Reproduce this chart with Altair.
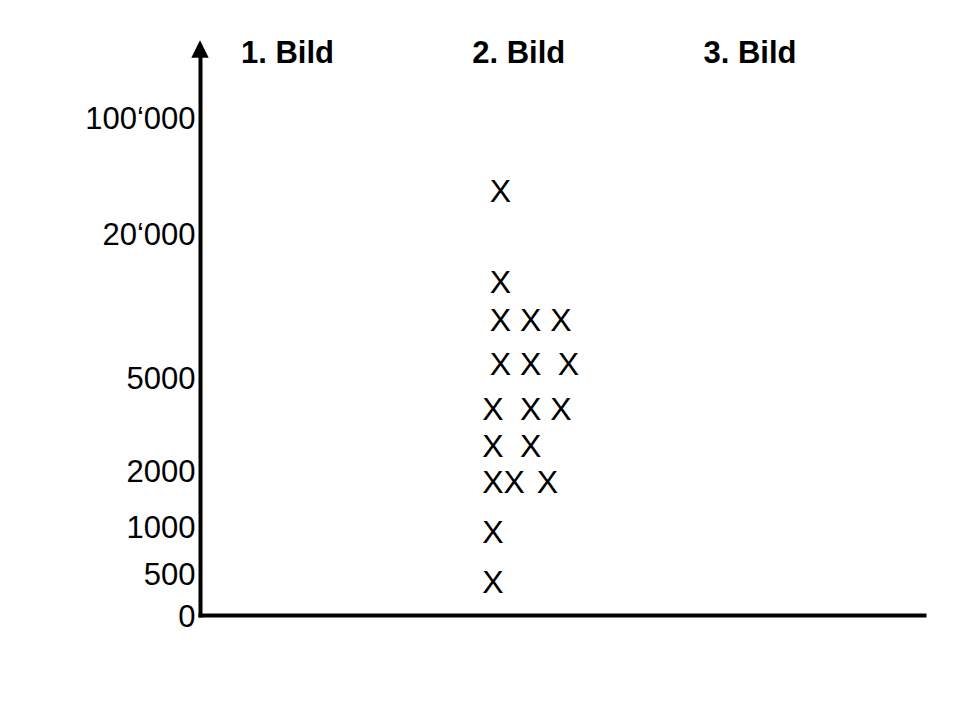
import json
import altair as alt
import pandas as pd

# ---- data -------------------------------------------------------------
headers = ["1. Bild", "2. Bild", "3. Bild"]
header_pos = [1, 2, 3]

tick_values = [0, 500, 1000, 2000, 5000, 20000, 100000]
tick_labels = ["0", "500", "1000", "2000", "5000", "20\u2018000", "100\u2018000"]

# each X of the tally in column "2. Bild": its value and its text slot in the row
x_values = [50000, 15000,
            11000, 11000, 11000,
            6500, 6500, 6500,
            4000, 4000, 4000,
            2800, 2800,
            1800, 1800, 1800,
            950, 400]
x_slots = [0.25, 0.25,
           0.25, 1.25, 2.25,
           0.25, 1.25, 2.5,
           0, 1.25, 2.25,
           0, 1.25,
           0, 0.7, 1.8,
           0, 0]
x_bild = [2] * len(x_values)

# ---- layout -------------------------------------------------------------
W, H = 724, 563
Y_TOP = 200000                      # top end of the drawn y axis
Y_DOMAIN = tick_values + [Y_TOP]
Y_RANGE = [563, 521, 474, 418, 325, 181, 65, 0]   # piecewise (hand-drawn) axis
X_MIN, X_MAX = 0.6216, 3.7524
LEAD, SLOT = -0.1114, 0.1306        # text-slot offsets within a column
FONT = "Liberation Sans"

df = pd.DataFrame({"bild": x_bild, "slot": x_slots, "value": x_values})
df["x"] = df["bild"] + LEAD + df["slot"] * SLOT

hdr = pd.DataFrame({"x": header_pos, "label": headers, "value": [Y_TOP] * 3})
arrow = pd.DataFrame({"x": [X_MIN], "value": [Y_TOP]})

label_expr = "{}[indexof({}, datum.value)]".format(
    json.dumps(tick_labels, ensure_ascii=False), json.dumps(tick_values)
)

xscale = alt.Scale(domain=[X_MIN, X_MAX], range=[0, W], nice=False, zero=False)
yscale = alt.Scale(domain=Y_DOMAIN, range=Y_RANGE, nice=False, zero=False)

xaxis = alt.Axis(labels=False, ticks=False, grid=False, title=None,
                 domainWidth=4, domainColor="black", domainCap="square")
yaxis = alt.Axis(values=tick_values, labelExpr=label_expr, ticks=False, tickSize=0,
                 grid=False, title=None, domainWidth=4, domainColor="black",
                 domainCap="square", labelFont=FONT, labelFontSize=31,
                 labelColor="black", labelPadding=5, labelOffset=2,
                 labelOverlap=False, labelFlush=False)

X = alt.X("x:Q", scale=xscale, axis=xaxis)
Y = alt.Y("value:Q", scale=yscale, axis=yaxis)

marks = alt.Chart(df).mark_text(
    text="X", font=FONT, fontSize=32, color="black",
    align="center", baseline="middle", yOffset=2
).encode(x=X, y=Y)

heads = alt.Chart(hdr).mark_text(
    font=FONT, fontSize=31, fontWeight="bold", color="black",
    align="center", baseline="middle", yOffset=2
).encode(x=X, y=Y, text="label:N")

head_arrow = alt.Chart(arrow).mark_point(
    shape="M0,-1L1,1L-1,1Z", size=300, filled=True, color="black",
    opacity=1, strokeWidth=0, yOffset=-3
).encode(x=X, y=Y)

chart = (
    alt.layer(marks, heads, head_arrow)
    .properties(width=W, height=H, autosize=alt.AutoSizeParams(type="none"),
                padding={"left": 192, "top": 44, "right": 20, "bottom": 20},
                background="white")
    .configure_view(stroke=None)
)

chart.save("out.html", embed_options={"renderer": "svg", "actions": False})
